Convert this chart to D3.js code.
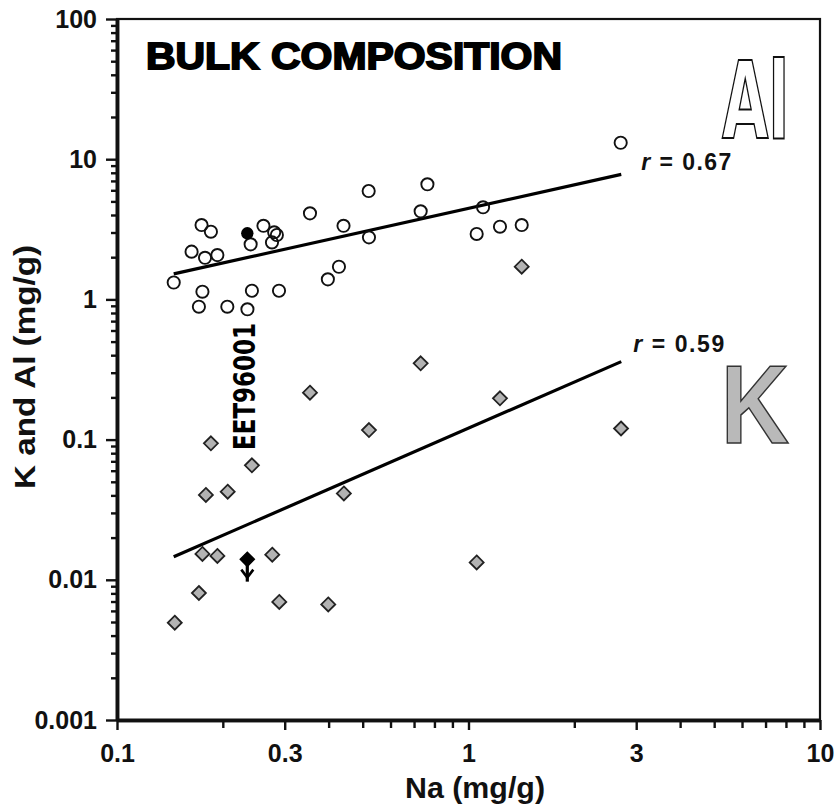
<!DOCTYPE html>
<html>
<head>
<meta charset="utf-8">
<script src="https://cdn.jsdelivr.net/npm/d3@7"></script>
<style>
  body { margin: 0; background: #fff; }
  svg { display: block; font-family: "Liberation Sans", Arial, sans-serif; }
</style>
</head>
<body>
<div id="chart"></div>
<script>
  //=========================================================================
  // Data
  //=========================================================================

  // Al, open circles: Na (mg/g) vs Al (mg/g)
  var alNa = [0.145, 0.163, 0.174, 0.185, 0.178, 0.193, 0.175, 0.171, 0.206, 0.235,
              0.242, 0.289, 0.240, 0.261, 0.280, 0.285, 0.276, 0.354, 0.441, 0.428,
              0.398, 0.520, 0.521, 0.764, 0.731, 1.10, 1.055, 1.229, 1.417, 2.71];
  var alVal = [1.32, 2.19, 3.39, 3.04, 1.98, 2.07, 1.135, 0.887, 0.887, 0.85,
               1.153, 1.153, 2.47, 3.35, 3.01, 2.88, 2.55, 4.11, 3.35, 1.71,
               1.39, 5.93, 2.77, 6.62, 4.25, 4.54, 2.93, 3.30, 3.39, 13.1];

  // K, grey diamonds: Na (mg/g) vs K (mg/g)
  var kNa = [0.146, 0.171, 0.175, 0.179, 0.185, 0.193, 0.2065, 0.242, 0.2765, 0.2895,
             0.354, 0.399, 0.442, 0.521, 0.731, 1.055, 1.229, 1.417, 2.716];
  var kVal = [0.00494, 0.00805, 0.0153, 0.0403, 0.0941, 0.0148, 0.0425, 0.0656, 0.0151, 0.00695,
              0.216, 0.00667, 0.0413, 0.117, 0.350, 0.0133, 0.197, 1.71, 0.120];

  // EET96001 (filled symbols)
  var eetNa = 0.2348;
  var eetAl = 2.96;
  var eetK = 0.0140;      // upper limit
  var eetKArrowTo = 0.0097;

  // regression lines
  var fitNa = [0.145, 2.72];
  var fitAl = [1.52, 7.8];
  var fitK = [0.0146, 0.36];
  var fitR = ["0.67", "0.59"];

  // axes
  var xTicks = [0.1, 0.3, 1, 3, 10];
  var xTickLabels = ["0.1", "0.3", "1", "3", "10"];
  var yTicks = [0.001, 0.01, 0.1, 1, 10, 100];
  var yTickLabels = ["0.001", "0.01", "0.1", "1", "10", "100"];
  var xTitle = "Na (mg/g)";
  var yTitle = "K and Al (mg/g)";
  var chartTitle = "BULK COMPOSITION";

  //=========================================================================
  // Set Dimensions
  //=========================================================================

  var width = 835,
      height = 807;

  var margin = { top: 19, right: 15, bottom: 87, left: 117 },
      iwidth = width - margin.left - margin.right,
      iheight = height - margin.top - margin.bottom;

  var svg = d3.select("#chart")
    .append("svg")
    .attr("width", width)
    .attr("height", height);

  var g = svg.append("g")
    .attr("transform", `translate(${margin.left}, ${margin.top})`);

  //=========================================================================
  // Scales
  //=========================================================================

  var x = d3.scaleLog().domain([0.1, 10]).range([0, iwidth]);
  var y = d3.scaleLog().domain([0.001, 100]).range([iheight, 0]);

  function minors(lo, hi) {
    var out = [];
    for (var e = lo; e < hi; e++) {
      for (var m = 2; m <= 9; m++) out.push(m * Math.pow(10, e));
    }
    return out;
  }

  //=========================================================================
  // Frame + Axes
  //=========================================================================

  g.append("rect")
    .attr("width", iwidth)
    .attr("height", iheight)
    .attr("fill", "none")
    .attr("stroke", "#111")
    .attr("stroke-width", 2.2);

  function style_axis(sel, fontSize) {
    sel.select(".domain").attr("stroke", "#111").attr("stroke-width", 3.5);
    sel.selectAll(".tick line").attr("stroke", "#111").attr("stroke-width", 2.4);
    sel.selectAll(".tick text")
      .attr("fill", "#111")
      .style("font-size", fontSize + "px")
      .style("font-weight", "bold");
  }

  // x minor ticks
  g.append("g")
    .attr("transform", `translate(0,${iheight})`)
    .call(d3.axisBottom(x).tickValues(minors(-1, 1).filter(v => Math.abs(v - 0.3) > 1e-9 && Math.abs(v - 3) > 1e-9))
      .tickSize(8).tickSizeOuter(0).tickFormat(""))
    .call(s => style_axis(s, 25));

  // x major ticks
  g.append("g")
    .attr("transform", `translate(0,${iheight})`)
    .call(d3.axisBottom(x).tickValues(xTicks).tickSize(10).tickSizeOuter(0)
      .tickPadding(14).tickFormat((d, i) => xTickLabels[i]))
    .call(s => style_axis(s, 25));

  // y minor ticks
  g.append("g")
    .call(d3.axisLeft(y).tickValues(minors(-3, 2)).tickSize(6).tickSizeOuter(0).tickFormat(""))
    .call(s => style_axis(s, 25));

  // y major ticks
  g.append("g")
    .call(d3.axisLeft(y).tickValues(yTicks).tickSize(11).tickSizeOuter(0)
      .tickPadding(9).tickFormat((d, i) => yTickLabels[i]))
    .call(s => style_axis(s, 25));

  // axis titles
  svg.append("text")
    .attr("x", 405)
    .attr("y", 798)
    .attr("textLength", 140)
    .attr("lengthAdjust", "spacingAndGlyphs")
    .style("font-size", "30px")
    .style("font-weight", "bold")
    .attr("fill", "#111")
    .text(xTitle);

  svg.append("text")
    .attr("transform", "translate(35,367)rotate(-90)")
    .attr("text-anchor", "middle")
    .attr("textLength", 244)
    .attr("lengthAdjust", "spacingAndGlyphs")
    .style("font-size", "30px")
    .style("font-weight", "bold")
    .attr("fill", "#111")
    .text(yTitle);

  //=========================================================================
  // Labels inside the plot
  //=========================================================================

  svg.append("text")
    .attr("x", 146)
    .attr("y", 69)
    .attr("textLength", 416)
    .attr("lengthAdjust", "spacingAndGlyphs")
    .style("font-size", "36px")
    .style("font-weight", "bold")
    .attr("fill", "#000")
    .attr("stroke", "#000")
    .attr("stroke-width", 1.8)
    .text(chartTitle);

  // outlined "Al"
  svg.append("text")
    .attr("x", 722)
    .attr("y", 137.5)
    .attr("textLength", 67)
    .attr("lengthAdjust", "spacingAndGlyphs")
    .style("font-family", "'Liberation Sans Narrow', 'DejaVu Sans Condensed', sans-serif")
    .style("font-size", "107px")
    .style("font-weight", "bold")
    .attr("fill", "#fff")
    .attr("stroke", "#111")
    .attr("stroke-width", 2)
    .text("Al");

  // grey "K"
  svg.append("text")
    .attr("x", 721)
    .attr("y", 442.5)
    .attr("textLength", 68)
    .attr("lengthAdjust", "spacingAndGlyphs")
    .style("font-size", "112px")
    .style("font-weight", "bold")
    .attr("fill", "#b9b9b9")
    .attr("stroke", "#333")
    .attr("stroke-width", 1.6)
    .text("K");

  // sample label
  svg.append("text")
    .attr("transform", "translate(255,450)rotate(-90)")
    .attr("textLength", 127)
    .attr("lengthAdjust", "spacingAndGlyphs")
    .style("font-family", "'Liberation Sans Narrow', 'DejaVu Sans Condensed', sans-serif")
    .style("font-size", "31px")
    .style("font-weight", "bold")
    .attr("fill", "#000")
    .text("EET96001");

  //=========================================================================
  // Regression lines
  //=========================================================================

  var line = d3.line().x(d => x(d[0])).y(d => y(d[1]));

  [fitAl, fitK].forEach(function (fit, i) {
    var pts = fitNa.map((v, j) => [v, fit[j]]);
    g.append("path")
      .attr("d", line(pts))
      .attr("fill", "none")
      .attr("stroke", "#000")
      .attr("stroke-width", 3.2);

    var lab = g.append("text")
      .attr("x", x(fitNa[1]) + (i == 0 ? 20 : 12))
      .attr("y", y(fit[1]) + (i == 0 ? -4 : -10))
      .attr("textLength", i == 0 ? 90 : 91)
      .attr("lengthAdjust", "spacing")
      .style("font-size", "23px")
      .style("font-weight", "bold")
      .attr("fill", "#111");
    lab.append("tspan").style("font-style", "italic").text("r");
    lab.append("tspan").text(" = " + fitR[i]);
  });

  //=========================================================================
  // Points
  //=========================================================================

  var alData = alNa.map((v, i) => ({ na: v, val: alVal[i] }));
  var kData = kNa.map((v, i) => ({ na: v, val: kVal[i] }));

  var diamond = d3.symbol().type(d3.symbolDiamond2).size(125);

  g.selectAll("path.k")
    .data(kData)
    .enter()
    .append("path")
    .attr("class", "k")
    .attr("d", diamond)
    .attr("transform", d => `translate(${x(d.na)},${y(d.val)})`)
    .attr("fill", "#b3b3b3")
    .attr("stroke", "#222")
    .attr("stroke-width", 1.8);

  g.selectAll("circle.al")
    .data(alData)
    .enter()
    .append("circle")
    .attr("class", "al")
    .attr("cx", d => x(d.na))
    .attr("cy", d => y(d.val))
    .attr("r", 6.1)
    .attr("fill", "none")
    .attr("stroke", "#111")
    .attr("stroke-width", 1.9);

  // EET96001
  g.append("circle")
    .attr("cx", x(eetNa))
    .attr("cy", y(eetAl))
    .attr("r", 6.2)
    .attr("fill", "#000");

  var ex = x(eetNa), ey = y(eetK), ea = y(eetKArrowTo);
  g.append("line")
    .attr("x1", ex).attr("x2", ex)
    .attr("y1", ey).attr("y2", ea)
    .attr("stroke", "#000")
    .attr("stroke-width", 3.2);
  g.append("path")
    .attr("d", `M${ex - 6},${ea - 12} L${ex},${ea - 4} L${ex + 6},${ea - 12}`)
    .attr("fill", "none")
    .attr("stroke", "#000")
    .attr("stroke-width", 2.6);
  g.append("path")
    .attr("d", diamond)
    .attr("transform", `translate(${ex},${ey})`)
    .attr("fill", "#000")
    .attr("stroke", "#000")
    .attr("stroke-width", 1.5);
</script>
</body>
</html>
